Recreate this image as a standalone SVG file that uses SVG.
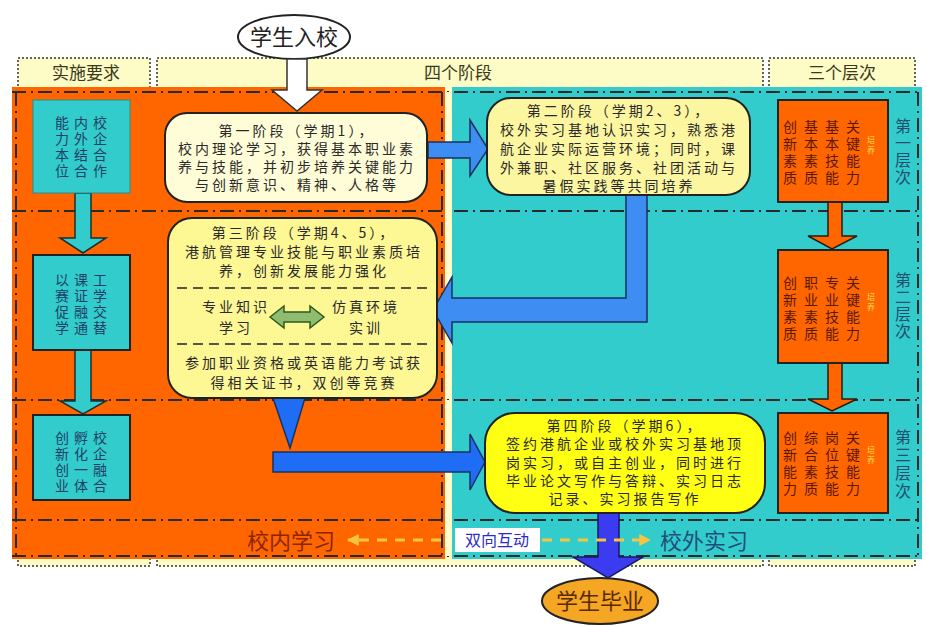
<svg xmlns="http://www.w3.org/2000/svg" width="927" height="626" viewBox="0 0 927 626">
<style>
.t{font-family:"Noto Sans CJK SC","Noto Sans",sans-serif;}
.hd{font-size:17px;fill:#3a3a1a;text-anchor:middle;}
.st{font-size:14px;fill:#2a2a2a;text-anchor:middle;letter-spacing:3px;}
.lc{font-size:14px;fill:#1f3f66;text-anchor:middle;}
.rc{font-size:14px;fill:#5a1800;text-anchor:middle;}
.sm{font-size:8px;fill:#ffd84a;text-anchor:middle;}
.lv{font-size:16px;fill:#1f4e6e;text-anchor:middle;}
.dd{fill:none;stroke:#2a2a2a;stroke-width:2;stroke-dasharray:14 5 2 5;}
.dw{fill:none;stroke:#fffbe0;stroke-width:2;stroke-dasharray:10 4;}
.band{fill:#fdfbc6;stroke:#333;stroke-width:1.5;stroke-dasharray:2 2;}
.stage{stroke:#222;stroke-width:2;}
.cyanbox{fill:#33cccc;}
.orbox{fill:#ff6600;stroke:#222;stroke-width:2;}
.blue{fill:#3d8df2;stroke:#1a3060;stroke-width:1.5;}
.blue2{fill:#1f6cf5;stroke:#1a3060;stroke-width:1.5;}
.ya{fill:none;stroke:#f5c542;stroke-width:3;stroke-dasharray:10 8;}
</style>
<defs>
<marker id="yh" viewBox="0 0 10 10" refX="9" refY="5" markerWidth="4" markerHeight="4" orient="auto-start-reverse">
<path d="M0,0 L10,5 L0,10 z" fill="#f5c542"/>
</marker>
</defs>
<rect x="0" y="0" width="927" height="626" fill="#ffffff"/>
<g id="bands">
<rect class="band" x="18" y="58" width="132" height="508"/>
<rect class="band" x="157" y="58" width="606" height="508"/>
<rect class="band" x="769" y="58" width="146" height="508"/>
<text class="t hd" x="86" y="79">实施要求</text>
<text class="t hd" x="458" y="79">四个阶段</text>
<text class="t hd" x="842" y="79">三个层次</text>
</g>
<g id="regions">
<rect x="12" y="87" width="433" height="472" fill="#ff6600"/>
<rect x="452" y="87" width="470" height="472" fill="#33cccc"/>
<line class="dd" x1="12" y1="92" x2="922" y2="92"/>
<line class="dd" x1="12" y1="211" x2="922" y2="211"/>
<line class="dd" x1="12" y1="400" x2="922" y2="400"/>
<line class="dd" x1="12" y1="520" x2="922" y2="520"/>
<line class="dd" x1="12" y1="556" x2="922" y2="556"/>
<line class="dd" x1="16" y1="92" x2="16" y2="556"/>
<line class="dd" x1="442" y1="92" x2="442" y2="556"/>
<line class="dw" x1="448" y1="92" x2="448" y2="556"/>
<line class="dd" x1="918" y1="92" x2="918" y2="556"/>
<text class="t" x="291" y="549" font-size="22" fill="#8b2500" text-anchor="middle">校内学习</text>
<text class="t" x="704" y="549" font-size="22" fill="#1f4e79" text-anchor="middle">校外实习</text>
</g>
<g id="start">
<ellipse cx="294" cy="37" rx="56" ry="22" fill="#ffffff" stroke="#222" stroke-width="2"/>
<text class="t" x="294" y="45" font-size="22" fill="#222" text-anchor="middle">学生入校</text>
</g>
<g id="end">
<ellipse cx="600" cy="601" rx="58" ry="23" fill="#f5a623" stroke="#222" stroke-width="2"/>
<text class="t" x="600" y="609" font-size="22" fill="#5a2a00" text-anchor="middle">学生毕业</text>
</g>
<g id="connectors">
<polygon points="287,59 307,59 307,90 322,90 297,111 272,90 287,90" fill="#ffffff" stroke="#333" stroke-width="1.5"/>
<polygon class="blue" points="428,142 470,142 470,120 488,149 470,176 470,158 428,158"/>
<polygon class="blue" points="626,195 647,195 647,322 452,322 452,343 433,310 452,277 452,298 626,298"/>
<polygon class="blue2" points="273,398 305,398 290,448"/>
<polygon class="blue2" points="273,452 470,452 470,434 485,462 470,490 470,472 273,472"/>
<polygon points="598,513 619,513 619,557 643,557 608,578 573,557 598,557" fill="#3b3bf0" stroke="#1a1a60" stroke-width="1.5"/>
<polygon points="75,193 91,193 91,238 106,238 83,253 60,238 75,238" fill="#33cccc" stroke="#1a3030" stroke-width="1.5"/>
<polygon points="75,350 91,350 91,401 106,401 83,414 60,401 75,401" fill="#33cccc" stroke="#1a3030" stroke-width="1.5"/>
<polygon points="828,202 842,202 842,236 857,236 832,249 808,236 828,236" fill="#ff6600" stroke="#2a1a10" stroke-width="1.5"/>
<polygon points="828,363 842,363 842,399 857,399 832,411 808,399 828,399" fill="#ff6600" stroke="#2a1a10" stroke-width="1.5"/>
<line class="ya" x1="441" y1="540" x2="348" y2="540" marker-end="url(#yh)"/>
<line class="ya" x1="542" y1="540" x2="650" y2="540" marker-end="url(#yh)"/>
<rect x="455" y="528" width="85" height="24" fill="#ffffff"/>
<text class="t" x="497" y="546" font-size="16" fill="#2b2bcc" text-anchor="middle">双向互动</text>
</g>
<g id="stage1">
<rect class="stage" x="165" y="113" width="262" height="89" rx="22" fill="#fffcd8"/>
<text class="t st" x="297" y="136">第一阶段（学期1），</text>
<text class="t st" x="297" y="154">校内理论学习，获得基本职业素</text>
<text class="t st" x="297" y="172">养与技能，并初步培养关键能力</text>
<text class="t st" x="297" y="190">与创新意识、精神、人格等</text>
</g>
<g id="stage2">
<rect class="stage" x="487" y="98" width="263" height="97" rx="24" fill="#fdf6a0"/>
<text class="t st" x="619" y="116">第二阶段（学期2、3），</text>
<text class="t st" x="619" y="135">校外实习基地认识实习，熟悉港</text>
<text class="t st" x="619" y="154">航企业实际运营环境；同时，课</text>
<text class="t st" x="619" y="173">外兼职、社区服务、社团活动与</text>
<text class="t st" x="619" y="191">暑假实践等共同培养</text>
</g>
<g id="stage3">
<rect class="stage" x="168" y="218" width="269" height="180" rx="24" fill="#fdf794"/>
<text class="t st" x="304" y="238">第三阶段（学期4、5），</text>
<text class="t st" x="304" y="257">港航管理专业技能与职业素质培</text>
<text class="t st" x="304" y="276">养，创新发展能力强化</text>
<line x1="177" y1="288" x2="430" y2="288" stroke="#222" stroke-width="1.5" stroke-dasharray="10 6"/>
<text class="t st" x="236" y="312">专业知识</text>
<text class="t st" x="236" y="333">学习</text>
<polygon points="270,317 284,306 284,312 310,312 310,306 324,317 310,328 310,322 284,322 284,328" fill="#8fbc6f" stroke="#2e5a1e" stroke-width="1.5"/>
<text class="t st" x="366" y="312">仿真环境</text>
<text class="t st" x="366" y="333">实训</text>
<line x1="177" y1="344" x2="430" y2="344" stroke="#222" stroke-width="1.5" stroke-dasharray="10 6"/>
<text class="t st" x="304" y="368">参加职业资格或英语能力考试获</text>
<text class="t st" x="304" y="388">得相关证书，双创等竞赛</text>
</g>
<g id="stage4">
<rect class="stage" x="485" y="413" width="280" height="100" rx="30" fill="#ffff14"/>
<text class="t st" x="625" y="431">第四阶段（学期6），</text>
<text class="t st" x="625" y="449">签约港航企业或校外实习基地顶</text>
<text class="t st" x="625" y="468">岗实习，或自主创业，同时进行</text>
<text class="t st" x="625" y="486">毕业论文写作与答辩、实习日志</text>
<text class="t st" x="625" y="504">记录、实习报告写作</text>
</g>
<g id="req1">
<rect class="cyanbox" x="33" y="100" width="97" height="93" stroke="#2a8a8a" stroke-width="1"/>
<text class="t lc" x="100" y="128">校<tspan x="100" dy="16">企</tspan><tspan x="100" dy="16">合</tspan><tspan x="100" dy="16">作</tspan></text>
<text class="t lc" x="81" y="128">内<tspan x="81" dy="16">外</tspan><tspan x="81" dy="16">结</tspan><tspan x="81" dy="16">合</tspan></text>
<text class="t lc" x="62" y="128">能<tspan x="62" dy="16">力</tspan><tspan x="62" dy="16">本</tspan><tspan x="62" dy="16">位</tspan></text>
</g>
<g id="req2">
<rect class="cyanbox" x="33" y="255" width="97" height="95" stroke="#222" stroke-width="2"/>
<text class="t lc" x="100" y="285">工<tspan x="100" dy="16">学</tspan><tspan x="100" dy="16">交</tspan><tspan x="100" dy="16">替</tspan></text>
<text class="t lc" x="81" y="285">课<tspan x="81" dy="16">证</tspan><tspan x="81" dy="16">融</tspan><tspan x="81" dy="16">通</tspan></text>
<text class="t lc" x="62" y="285">以<tspan x="62" dy="16">赛</tspan><tspan x="62" dy="16">促</tspan><tspan x="62" dy="16">学</tspan></text>
</g>
<g id="req3">
<rect class="cyanbox" x="33" y="415" width="97" height="85" stroke="#222" stroke-width="2"/>
<text class="t lc" x="100" y="443">校<tspan x="100" dy="16">企</tspan><tspan x="100" dy="16">融</tspan><tspan x="100" dy="16">合</tspan></text>
<text class="t lc" x="81" y="443">孵<tspan x="81" dy="16">化</tspan><tspan x="81" dy="16">一</tspan><tspan x="81" dy="16">体</tspan></text>
<text class="t lc" x="62" y="443">创<tspan x="62" dy="16">新</tspan><tspan x="62" dy="16">创</tspan><tspan x="62" dy="16">业</tspan></text>
</g>
<g id="level1">
<rect class="orbox" x="778" y="100" width="110" height="102"/>
<text class="t rc" x="853" y="132">关<tspan x="853" dy="17">键</tspan><tspan x="853" dy="17">能</tspan><tspan x="853" dy="17">力</tspan></text>
<text class="t rc" x="832" y="132">基<tspan x="832" dy="17">本</tspan><tspan x="832" dy="17">技</tspan><tspan x="832" dy="17">能</tspan></text>
<text class="t rc" x="811" y="132">基<tspan x="811" dy="17">本</tspan><tspan x="811" dy="17">素</tspan><tspan x="811" dy="17">质</tspan></text>
<text class="t rc" x="790" y="132">创<tspan x="790" dy="17">新</tspan><tspan x="790" dy="17">素</tspan><tspan x="790" dy="17">质</tspan></text>
<text class="t sm" x="871" y="143">培<tspan x="871" dy="10">养</tspan></text>
<text class="t lv" x="903" y="132">第<tspan x="903" dy="17">一</tspan><tspan x="903" dy="17">层</tspan><tspan x="903" dy="17">次</tspan></text>
</g>
<g id="level2">
<rect class="orbox" x="778" y="250" width="110" height="113"/>
<text class="t rc" x="853" y="288">关<tspan x="853" dy="17">键</tspan><tspan x="853" dy="17">能</tspan><tspan x="853" dy="17">力</tspan></text>
<text class="t rc" x="832" y="288">专<tspan x="832" dy="17">业</tspan><tspan x="832" dy="17">技</tspan><tspan x="832" dy="17">能</tspan></text>
<text class="t rc" x="811" y="288">职<tspan x="811" dy="17">业</tspan><tspan x="811" dy="17">素</tspan><tspan x="811" dy="17">质</tspan></text>
<text class="t rc" x="790" y="288">创<tspan x="790" dy="17">新</tspan><tspan x="790" dy="17">素</tspan><tspan x="790" dy="17">质</tspan></text>
<text class="t sm" x="871" y="300">培<tspan x="871" dy="10">养</tspan></text>
<text class="t lv" x="903" y="286">第<tspan x="903" dy="17">二</tspan><tspan x="903" dy="17">层</tspan><tspan x="903" dy="17">次</tspan></text>
</g>
<g id="level3">
<rect class="orbox" x="778" y="413" width="110" height="100"/>
<text class="t rc" x="853" y="443">关<tspan x="853" dy="17">键</tspan><tspan x="853" dy="17">能</tspan><tspan x="853" dy="17">力</tspan></text>
<text class="t rc" x="832" y="443">岗<tspan x="832" dy="17">位</tspan><tspan x="832" dy="17">技</tspan><tspan x="832" dy="17">能</tspan></text>
<text class="t rc" x="811" y="443">综<tspan x="811" dy="17">合</tspan><tspan x="811" dy="17">素</tspan><tspan x="811" dy="17">质</tspan></text>
<text class="t rc" x="790" y="443">创<tspan x="790" dy="17">新</tspan><tspan x="790" dy="17">能</tspan><tspan x="790" dy="17">力</tspan></text>
<text class="t sm" x="871" y="453">培<tspan x="871" dy="10">养</tspan></text>
<text class="t lv" x="903" y="443">第<tspan x="903" dy="18">三</tspan><tspan x="903" dy="18">层</tspan><tspan x="903" dy="18">次</tspan></text>
</g>
</svg>
